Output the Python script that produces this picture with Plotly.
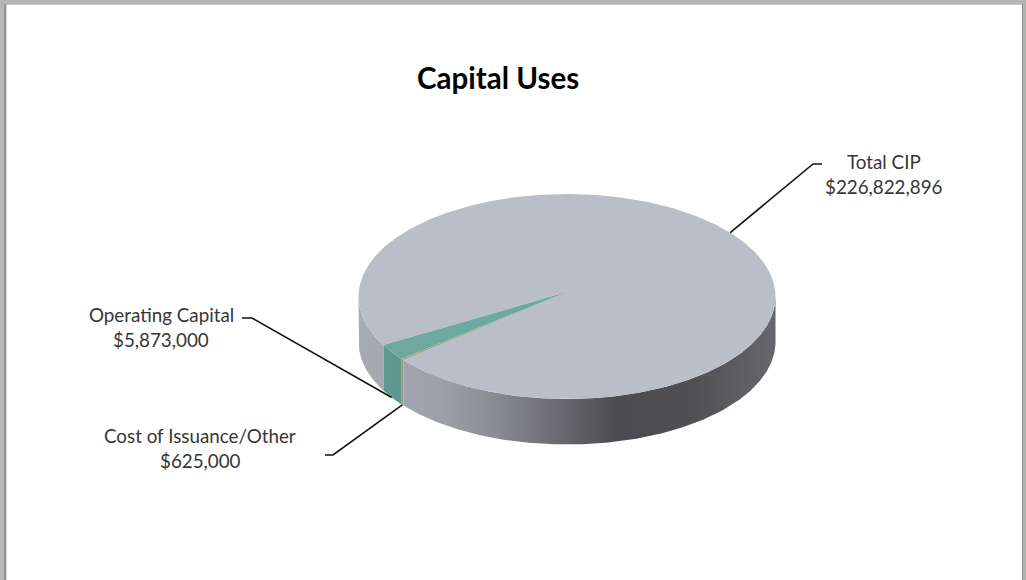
import numpy as np
import plotly.graph_objects as go

# Capital uses by category, in dollars
categories = ["Cost of Issuance/Other", "Operating Capital", "Total CIP"]
amounts = [625000, 5873000, 226822896]

# Pie geometry in screen units
CX, CY = 567.0, 296.5
RX, RY = 208.5, 102.5
DEPTH = 45.5
APEX_DX, APEX_DY = 3.0, -5.5   # perspective moves the visible centre
START_DEG = 141.7              # where the first slice begins, clockwise on screen

top_colors = ["#98a68c", "#6fa8a1", "#b9bec9"]
wall_scales = [
    [[0, "#8f9a78"], [1, "#8f9a78"]],
    [[0, "#5f9a93"], [1, "#528079"]],
    [[0.0, "#a9abb4"], [0.2, "#9da0a9"], [0.33, "#8a8b92"], [0.45, "#707076"],
     [0.62, "#4b4b50"], [0.8, "#4f4f54"], [1.0, "#67676c"]],
]

spans = 360.0 * np.array(amounts) / sum(amounts)
edges = START_DEG + np.concatenate([[0], np.cumsum(spans)])


def rim(a0, a1, drop=0.0):
    n = max(2, int(abs(a1 - a0) * 2) + 1)
    t = np.radians(np.linspace(a0, a1, n))
    return CX + RX * np.cos(t), CY + RY * np.sin(t) + drop


fig = go.Figure()


def add_wall(a0, a1, scale):
    x0, y0 = rim(a0, a1)
    x1, y1 = rim(a1, a0, DEPTH)
    fig.add_trace(go.Scatter(
        x=np.r_[x0, x1, x0[0]], y=np.r_[y0, y1, y0[0]],
        mode="lines", line=dict(width=0), fill="toself",
        fillgradient=dict(type="horizontal", colorscale=scale,
                          start=CX - RX, stop=CX + RX),
    ))


# Side wall: only the front half of the rim (0..180 deg) is visible
for i in range(3):
    a0, a1 = edges[i], edges[i + 1]
    if i == 2:
        add_wall(a0, 180.0, wall_scales[i])
        add_wall(360.0, a1, wall_scales[i])
    else:
        add_wall(a0, a1, wall_scales[i])

# Top face: largest slice first, thin slices over it
for i in [2, 1, 0]:
    x, y = rim(edges[i], edges[i + 1])
    ax, ay = CX + APEX_DX, CY + APEX_DY
    fig.add_trace(go.Scatter(
        x=np.r_[ax, x, ax], y=np.r_[ay, y, ay],
        mode="lines", line=dict(width=0), fill="toself", fillcolor=top_colors[i],
    ))

# Leader lines, each starting from its slice's rim
leader = dict(color="#111111", width=1.6)
mid = (edges[:-1] + edges[1:]) / 2
mx, my = rim(mid[0], mid[0] + 1e-6, DEPTH)
fig.add_trace(go.Scatter(x=[mx[0], 333, 325], y=[my[0], 455, 455], mode="lines", line=leader))
mx, my = rim(mid[1], mid[1] + 1e-6, DEPTH)
fig.add_trace(go.Scatter(x=[mx[0], 252, 242], y=[my[0], 318, 318], mode="lines", line=leader))
mx, my = rim(mid[2] - 5.2, mid[2] - 5.2 + 1e-6)
fig.add_trace(go.Scatter(x=[mx[0], 813, 822], y=[my[0], 164, 164], mode="lines", line=leader))

# Category labels with their amounts beneath
label_spots = [(200, 435, 460), (161, 314, 339), (884, 161, 186)]
notes = [dict(x=498, y=77.5, text="<b>Capital Uses</b>", showarrow=False,
              font=dict(family="Lato", size=29.5, color="#000000"))]
for name, amount, (lx, y1, y2) in zip(categories, amounts, label_spots):
    for text, ly in ((name, y1), (f"${amount:,}", y2)):
        notes.append(dict(x=lx, y=ly, text=text, showarrow=False,
                          font=dict(family="Lato", size=18.8, color="#363636")))

# Window-style frame around the page
frame = []
for x0, y0, x1, y1, c in [
    (0, 0, 1026, 4, "#b6b8b6"), (0, 4, 1026, 5, "#c4c6c4"),
    (0, 0, 4, 580, "#b6b8b6"), (4, 4, 6, 580, "#929292"), (6, 5, 7, 580, "#d2d2d2"),
    (1023, 0, 1026, 580, "#b0b2b0"), (1022, 4, 1023, 580, "#8f8f8f"),
]:
    frame.append(dict(type="rect", xref="x", yref="y", x0=x0, y0=y0, x1=x1, y1=y1,
                      fillcolor=c, line=dict(width=0), layer="above"))

hidden = dict(visible=False, fixedrange=True, showgrid=False, zeroline=False)
fig.update_layout(
    width=1026, height=580, autosize=False,
    margin=dict(l=0, r=0, t=0, b=0),
    paper_bgcolor="#ffffff", plot_bgcolor="#ffffff",
    showlegend=False, hovermode=False,
    xaxis=dict(range=[0, 1026], **hidden),
    yaxis=dict(range=[580, 0], **hidden),
    annotations=notes, shapes=frame,
)
fig.write_html("out.html", config=dict(displayModeBar=False))
